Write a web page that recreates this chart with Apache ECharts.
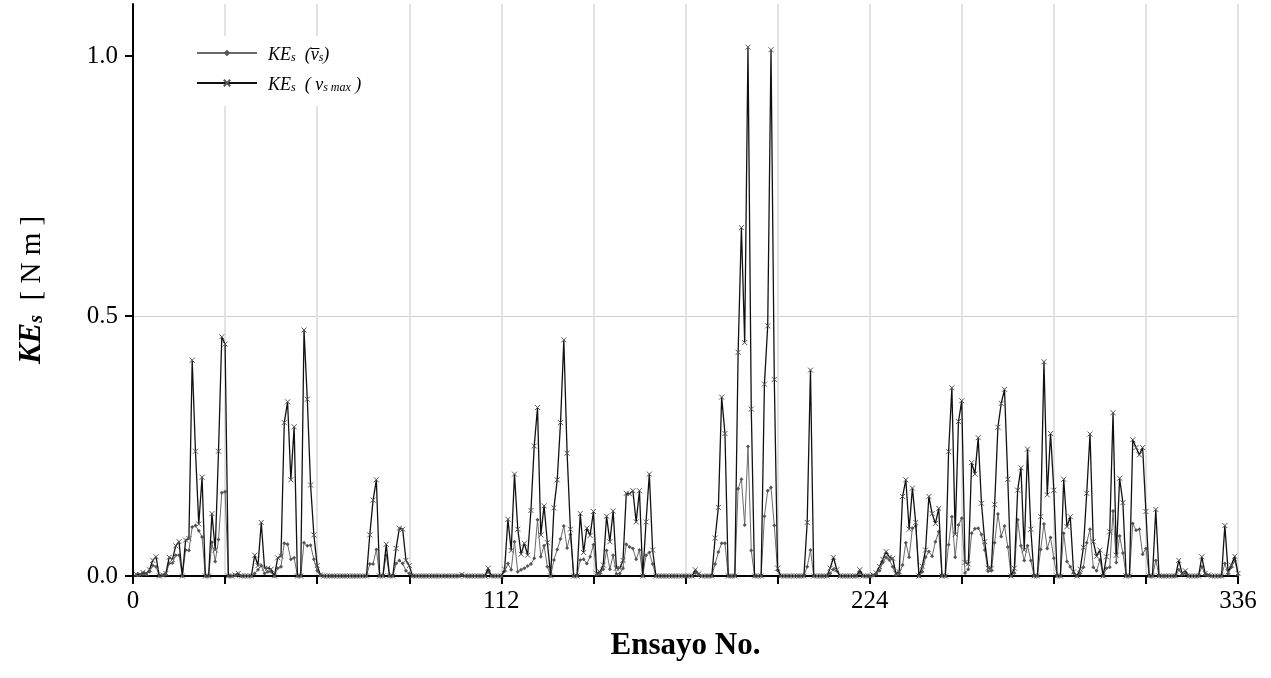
<!DOCTYPE html>
<html>
<head>
<meta charset="utf-8">
<script src="https://cdn.jsdelivr.net/npm/echarts@6/dist/echarts.min.js"></script>
<style>
  html, body { margin: 0; padding: 0; background: #fff; }
  #chart { width: 1271px; height: 678px; }
</style>
</head>
<body>
<div id="chart"></div>
<script>
// Trial numbers 1..336 (x axis)
const trialNo = Array.from({ length: 336 }, (_, k) => k + 1);

// KE_s (v_s max), rows of 28 trials
const keMax = [
  0.003,0.003,0.007,0.005,0.012,0.030,0.037,0,0.002,0.005,0.036,0.032,0.058,0.066,0,0.069,0.072,0.415,0.240,0.100,0.190,0,0,0.120,0.050,0.240,0.460,0.446,
  0,0,0.002,0.005,0,0,0,0,0.040,0.020,0.103,0.015,0.015,0.013,0,0.035,0.038,0.295,0.335,0.185,0.287,0,0,0.473,0.340,0.175,0.079,0.020,
  0.002,0,0,0,0,0,0,0,0,0,0,0,0,0,0,0.079,0.146,0.185,0,0,0.061,0,0,0.053,0.092,0.090,0.030,0.020,
  0,0,0,0,0,0,0,0,0,0,0,0,0,0,0,0.003,0,0,0,0,0,0,0,0.015,0,0,0,0,
  0.013,0.109,0.049,0.196,0.090,0.042,0.063,0.040,0.126,0.250,0.324,0.079,0.135,0.064,0,0.131,0.185,0.295,0.454,0.236,0.090,0,0,0.120,0.045,0.092,0.078,0.124,
  0.005,0.008,0.021,0.115,0.066,0.125,0.015,0.015,0.030,0.159,0.158,0.164,0.104,0.164,0,0.104,0.196,0.050,0,0,0,0,0,0,0,0,0,0,
  0,0,0.012,0.004,0,0,0,0,0.073,0.132,0.344,0.274,0,0,0,0.430,0.670,0.449,1.017,0.321,0,0,0,0.369,0.481,1.012,0.378,0.015,
  0,0,0,0,0,0,0,0,0.103,0.396,0,0,0,0,0,0.015,0.036,0.012,0,0,0,0,0,0,0.012,0,0,0,
  0.002,0.006,0.018,0.032,0.047,0.036,0.034,0.005,0.008,0.153,0.185,0.090,0.169,0.103,0,0.019,0.050,0.153,0.120,0.101,0.130,0,0,0.239,0.362,0.080,0.297,0.337,
  0.026,0.023,0.218,0.196,0.266,0.140,0.066,0.015,0.015,0.137,0.286,0.332,0.359,0.186,0,0.015,0.165,0.208,0.050,0.244,0.090,0,0,0.114,0.412,0.156,0.274,0.165,
  0,0,0.186,0.095,0.114,0.008,0,0.013,0.055,0.159,0.273,0.066,0.038,0.050,0,0.037,0.085,0.314,0.040,0.188,0.141,0,0,0.262,0.247,0.233,0.247,0.124,
  0,0,0.128,0,0,0,0,0,0,0.030,0.005,0.010,0,0,0,0,0.037,0.005,0.002,0,0,0,0,0.097,0.008,0.021,0.038,0.005
];

// KE_s (mean v_s), rows of 28 trials
const keMean = [
  0.002,0.002,0.004,0.003,0.008,0.020,0.018,0,0.001,0.003,0.024,0.025,0.040,0.040,0,0.050,0.049,0.094,0.097,0.087,0.075,0,0,0.065,0.028,0.070,0.160,0.162,
  0,0,0.001,0.003,0,0,0,0,0.005,0.012,0.020,0.005,0.008,0.008,0,0.015,0.018,0.063,0.061,0.032,0.035,0,0,0.064,0.058,0.059,0.032,0.010,
  0.001,0,0,0,0,0,0,0,0,0,0,0,0,0,0,0.023,0.023,0.051,0,0,0.040,0,0,0.024,0.030,0.024,0.010,0.005,
  0,0,0,0,0,0,0,0,0,0,0,0,0,0,0,0.002,0,0,0,0,0,0,0,0.008,0,0,0,0,
  0.009,0.024,0.012,0.066,0.008,0.012,0.015,0.019,0.023,0.034,0.108,0.037,0.058,0.018,0,0.031,0.051,0.071,0.096,0.054,0.080,0,0,0.031,0.032,0.024,0.037,0.060,
  0.003,0.005,0.013,0.049,0.013,0.040,0.004,0.005,0.015,0.061,0.056,0.053,0.032,0.050,0,0.040,0.045,0.023,0,0,0,0,0,0,0,0,0,0,
  0,0,0.006,0.002,0,0,0,0,0.023,0.046,0.063,0.063,0,0,0,0.168,0.186,0.098,0.249,0.049,0,0,0,0.115,0.164,0.170,0.097,0.011,
  0,0,0,0,0,0,0,0,0.018,0.050,0,0,0,0,0,0.005,0.013,0.010,0,0,0,0,0,0,0.006,0,0,0,
  0.001,0.004,0.010,0.026,0.036,0.031,0.018,0.002,0.005,0.021,0.064,0.036,0.092,0.096,0,0.008,0.036,0.047,0.038,0.066,0.085,0,0,0.060,0.114,0.036,0.098,0.111,
  0.006,0.013,0.082,0.091,0.092,0.080,0.050,0.009,0.010,0.064,0.119,0.076,0.096,0.056,0,0.006,0.108,0.058,0.030,0.058,0.030,0,0,0.051,0.100,0.053,0.074,0.034,
  0,0,0.082,0.028,0.018,0.006,0,0.005,0.017,0.064,0.090,0.017,0.010,0.031,0,0.015,0.017,0.125,0.026,0.077,0.044,0,0,0.101,0.088,0.090,0.042,0.053,
  0,0,0.030,0,0,0,0,0,0,0.012,0.003,0.005,0,0,0,0,0.018,0.003,0.001,0,0,0,0,0.024,0.004,0.017,0.030,0.003
];

const xTickLabels = [0, 112, 224, 336];
const yTickLabels = [0, 0.5, 1.0];
const seriesNames = ['KEs_mean', 'KEs_max'];

const FONT = '"Liberation Serif", "DejaVu Serif", serif';

const chart = echarts.init(document.getElementById('chart'), null, { renderer: 'canvas' });

const legendRich = {
  a: { fontFamily: FONT, fontStyle: 'italic', fontSize: 18, color: '#000', lineHeight: 22, verticalAlign: 'bottom' },
  b: { fontFamily: FONT, fontStyle: 'italic', fontSize: 12, color: '#000', lineHeight: 19, verticalAlign: 'bottom' }
};

chart.setOption({
  animation: false,
  backgroundColor: '#fff',
  grid: { left: 133, right: 33, top: 4, bottom: 102, containLabel: false },
  legend: {
    orient: 'vertical',
    left: 186,
    top: 36,
    padding: [10, 16, 12, 10],
    itemGap: 12,
    itemWidth: 60,
    itemHeight: 8,
    backgroundColor: '#fff',
    data: seriesNames,
    formatter: function (name) {
      if (name === seriesNames[0]) return '{a|KE}{b|s}{a|  (v\u0305}{b|s}{a|)}';
      return '{a|KE}{b|s}{a|  ( v}{b|s max}{a| )}';
    },
    textStyle: { rich: legendRich, padding: [0, 0, 0, 6] }
  },
  xAxis: {
    type: 'value',
    min: 0,
    max: 336,
    interval: 28,
    name: 'Ensayo No.',
    nameLocation: 'middle',
    nameGap: 54,
    nameTextStyle: { fontFamily: FONT, fontWeight: 'bold', fontSize: 31, color: '#000' },
    axisLine: { show: true, onZero: false, lineStyle: { color: '#000', width: 2 } },
    axisTick: { show: true, length: 8, lineStyle: { color: '#000', width: 2 } },
    axisLabel: { customValues: xTickLabels, fontFamily: FONT, fontSize: 25, color: '#000', margin: 13 },
    splitLine: { show: true, lineStyle: { color: '#e2e2e2', width: 2 } }
  },
  yAxis: {
    type: 'value',
    min: 0,
    max: 1.1,
    interval: 0.1,
    name: '{k|KE}{s|s}{u|  [ N m ]}',
    nameLocation: 'middle',
    nameGap: 86,
    nameRotate: 90,
    nameTextStyle: {
      rich: {
        k: { fontFamily: FONT, fontWeight: 'bold', fontStyle: 'italic', fontSize: 31, color: '#000', lineHeight: 38, verticalAlign: 'bottom' },
        s: { fontFamily: FONT, fontWeight: 'bold', fontStyle: 'italic', fontSize: 20, color: '#000', lineHeight: 32, verticalAlign: 'bottom' },
        u: { fontFamily: FONT, fontSize: 29, color: '#000', lineHeight: 38, verticalAlign: 'bottom' }
      }
    },
    axisLine: { show: true, lineStyle: { color: '#000', width: 2 } },
    axisTick: { show: true, customValues: yTickLabels, length: 8, lineStyle: { color: '#000', width: 2 } },
    axisLabel: {
      customValues: yTickLabels,
      fontFamily: FONT, fontSize: 25, color: '#000', margin: 15,
      formatter: function (v) { return Number(v).toFixed(1); }
    },
    splitLine: { show: true, showMaxLine: false, lineStyle: { color: '#cfcfcf', width: 1 } }
  },
  series: [
    {
      name: seriesNames[0],
      type: 'line',
      data: keMean.map((v, k) => [trialNo[k], v]),
      symbol: 'diamond',
      symbolSize: 4,
      showSymbol: true,
      showAllSymbol: true,
      lineStyle: { color: '#6a6a6a', width: 1 },
      itemStyle: { color: '#555' },
      emphasis: { disabled: true },
      z: 2
    },
    {
      name: seriesNames[1],
      type: 'line',
      data: keMax.map((v, k) => [trialNo[k], v]),
      symbol: 'path://M0,0L10,10M10,0L0,10',
      symbolSize: 5,
      showSymbol: true,
      showAllSymbol: true,
      lineStyle: { color: '#111', width: 1.3 },
      itemStyle: { color: 'rgba(0,0,0,0)', borderColor: '#555', borderWidth: 1 },
      emphasis: { disabled: true },
      z: 3
    }
  ]
});
</script>
</body>
</html>
